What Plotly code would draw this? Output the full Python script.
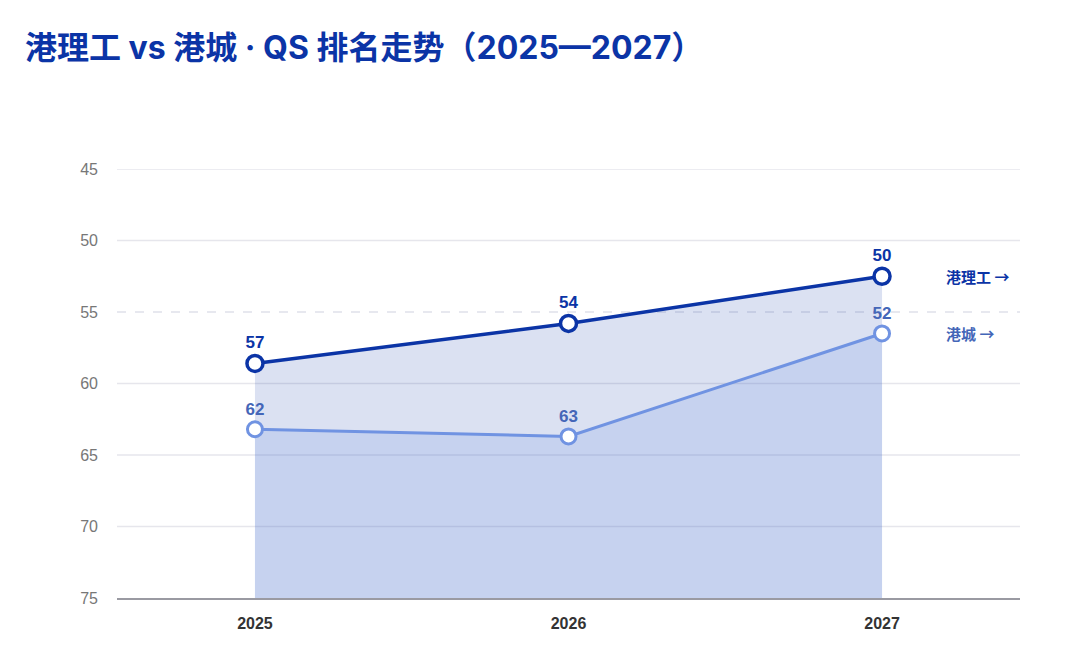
import plotly.graph_objects as go

# ── data ──────────────────────────────────────────────
YEARS = [2025, 2026, 2027]
POLYU_Y = [58.6, 55.8, 52.5]      # plotted position of 港理工 line
CITYU_Y = [63.2, 63.7, 56.5]      # plotted position of 港城 line
POLYU_LABELS = ["57", "54", "50"]
CITYU_LABELS = ["62", "63", "52"]
Y_TICKS = [45, 50, 55, 60, 65, 70, 75]
BASELINE = 75

# ── style ─────────────────────────────────────────────
FONT = "'Liberation Sans', 'Noto Sans CJK SC', sans-serif"
TITLE_FONT = "Inter, 'Noto Sans CJK SC', sans-serif"
CJK_FONT = "'Noto Sans CJK SC', sans-serif"
DARK = "#0b34a6"
LIGHT = "#7093e2"
LIGHT_TEXT = "#4466b8"
W, H = 1072, 656   # page has an 8px body margin

fig = go.Figure()

# baseline for 港理工 area
fig.add_trace(go.Scatter(x=YEARS, y=[BASELINE] * len(YEARS), mode="lines",
                         line=dict(width=0), showlegend=False, hoverinfo="skip"))
fig.add_trace(go.Scatter(
    x=YEARS, y=POLYU_Y, mode="lines+markers+text", name="港理工",
    fill="tonexty", fillcolor="rgba(11,52,166,0.15)",
    line=dict(color=DARK, width=3.5),
    marker=dict(size=16, color="white", line=dict(color=DARK, width=3.5)),
    text=POLYU_LABELS, textposition="top center",
    textfont=dict(family=FONT, size=17, color=DARK, weight="bold"),
    showlegend=False,
))

# baseline for 港城 area
fig.add_trace(go.Scatter(x=YEARS, y=[BASELINE] * len(YEARS), mode="lines",
                         line=dict(width=0), showlegend=False, hoverinfo="skip"))
fig.add_trace(go.Scatter(
    x=YEARS, y=CITYU_Y, mode="lines+markers+text", name="港城",
    fill="tonexty", fillcolor="rgba(112,147,226,0.19)",
    line=dict(color=LIGHT, width=3),
    marker=dict(size=15, color="white", line=dict(color=LIGHT, width=3)),
    text=CITYU_LABELS, textposition="top center",
    textfont=dict(family=FONT, size=17, color=LIGHT_TEXT, weight="bold"),
    showlegend=False,
))

# gridlines (55 is dashed)
for v in Y_TICKS:
    if v == BASELINE:
        continue
    fig.add_hline(y=v, layer="below",
                  line=dict(color="#e6e6ec" if v != 55 else "#dfe1ea", width=1.3,
                            dash="dash" if v == 55 else "solid"))

# end labels
fig.add_annotation(x=YEARS[-1], y=POLYU_Y[-1], xref="x", yref="y", xshift=62,
                   text="港理工 →", showarrow=False, xanchor="left",
                   font=dict(family=CJK_FONT, size=15, color=DARK, weight="bold"))
fig.add_annotation(x=YEARS[-1], y=CITYU_Y[-1], xref="x", yref="y", xshift=62,
                   text="港城 →", showarrow=False, xanchor="left",
                   font=dict(family=CJK_FONT, size=15, color=LIGHT_TEXT, weight="bold"))

fig.update_layout(
    width=W, height=H,
    paper_bgcolor="white", plot_bgcolor="white",
    margin=dict(l=109, r=60, t=161, b=66),
    font=dict(family=FONT, color="#333"),
    title=dict(text="港理工 vs 港城 · QS 排名走势（2025—2027）",
               x=17 / W, xanchor="left", xref="container",
               y=1 - 40 / H, yanchor="middle", yref="container",
               font=dict(family=TITLE_FONT, size=32, color=DARK, weight="bold")),
    xaxis=dict(range=[2024.56, 2027.44], tickvals=YEARS, showgrid=False,
               zeroline=False, showline=True, linecolor="#9a9aa2", linewidth=1.5,
               ticks="", tickfont=dict(size=16, color="#333", weight="bold"),
               ticklabelstandoff=10),
    yaxis=dict(range=[BASELINE, 45], tickvals=Y_TICKS, showgrid=False,
               zeroline=False, showline=False, ticks="",
               tickfont=dict(size=16, color="#777"), ticklabelstandoff=18),
)

fig.write_html("out.html")
